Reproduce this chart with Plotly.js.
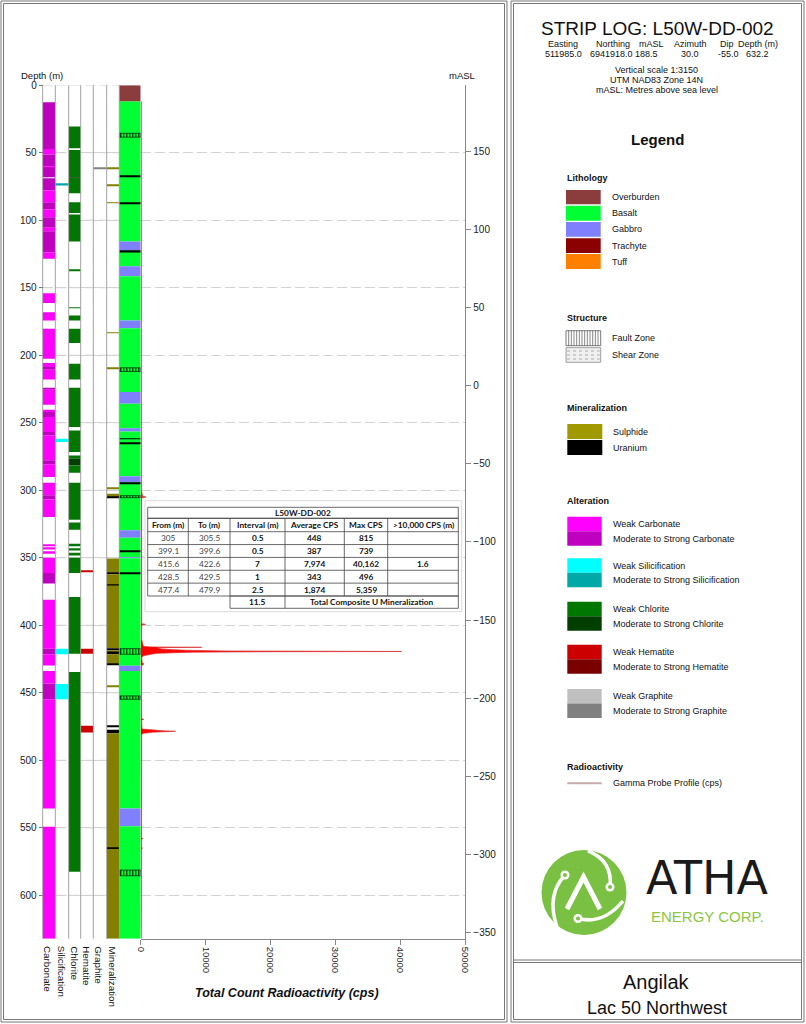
<!DOCTYPE html>
<html><head><meta charset="utf-8">
<script src="https://cdn.plot.ly/plotly-3.0.1.min.js"></script>
<style>html,body{margin:0;padding:0;background:#fff;}#chart{width:806px;height:1024px;}</style>
</head><body><div id="chart"></div>
<script>
// ================= DATA =================
const holeId = 'L50W-DD-002';
const holeDepth = 632.2;
const collarLabels = ['Easting','Northing','mASL','Azimuth','Dip','Depth (m)'];
const collarValues = ['511985.0','6941918.0','188.5','30.0','-55.0','632.2'];
const depthTicks = [0,50,100,150,200,250,300,350,400,450,500,550,600];
const maslTicks = [-350,-300,-250,-200,-150,-100,-50,0,50,100,150];
const cpsTicks = [0,10000,20000,30000,40000,50000];
const maslRange = [-354.0, 192.4];

// intervals: [from (m), to (m), code]
const carbonate = [
 [12.6,47.2,'S'],[47.2,51.4,'W'],[51.4,60.2,'S'],[60.2,60.8,'W'],[60.8,68.2,'S'],[68.9,78.0,'S'],[78.0,86.7,'W'],
 [86.7,92.1,'S'],[92.1,97.8,'W'],[97.8,105.6,'S'],[105.6,108.1,'W'],[108.1,123.7,'S'],[123.7,128.6,'W'],
 [154.0,161.4,'W'],[168.1,174.2,'W'],[180.3,202.6,'W'],[205.8,208.8,'W'],[208.8,210.8,'S'],[210.8,218.0,'W'],
 [224.0,225.5,'S'],[225.5,236.6,'W'],[240.3,242.0,'W'],[242.0,245.8,'S'],[245.8,256.9,'W'],[256.9,259.3,'S'],
 [259.3,277.8,'W'],[277.8,280.8,'S'],[280.8,290.2,'W'],[294.4,303.7,'W'],[303.7,306.9,'S'],[306.9,319.8,'W'],
 [340.3,341.3,'W'],[342.8,343.8,'W'],[345.8,347.0,'W'],[349.9,361.3,'W'],[361.3,369.1,'S'],[381.0,417.3,'W'],
 [417.3,421.5,'S'],[421.5,429.7,'W'],[433.8,443.1,'W'],[443.1,454.8,'S'],[454.8,535.7,'W'],[549.3,632.2,'W']
];
const silicification = [[73.3,74.3,'S'],[261.8,264.3,'W'],[417.3,421.5,'W'],[443.4,454.8,'W']];
const chlorite = [
 [30.6,46.7,'W'],[48.0,68.2,'W'],[68.2,68.7,'S'],[68.7,80.0,'W'],[86.7,94.6,'W'],[95.8,115.8,'W'],
 [137.0,137.5,'W'],[164.6,165.1,'W'],[170.5,174.2,'W'],[180.4,191.0,'W'],[206.3,218.0,'W'],[224.0,253.2,'W'],
 [255.7,271.7,'W'],[274.2,276.6,'W'],[276.6,281.6,'S'],[281.6,287.0,'W'],[294.4,321.9,'W'],[323.9,329.3,'W'],
 [339.7,341.4,'W'],[342.9,344.6,'W'],[346.3,348.3,'W'],[350.0,361.3,'W'],[379.1,421.0,'W'],[434.6,582.6,'W']
];
const hematite = [[359.6,360.1,'W'],[417.3,421.0,'W'],[474.5,479.4,'W']];
const graphite = [[60.8,61.8,'S']];
const mineralization = [
 [60.9,62.1,'SU'],[74.0,74.5,'SU'],[86.9,87.3,'SU'],[183.0,183.5,'SU'],[209.2,209.7,'SU'],[298.4,298.9,'SU'],
 [302.5,305.0,'SU'],[305.0,305.5,'U'],[350.6,361.0,'SU'],[361.0,361.6,'U'],[362.2,370.1,'SU'],[370.1,370.6,'U'],
 [370.6,417.0,'SU'],[417.0,418.5,'U'],[418.5,419.5,'SU'],[419.5,421.5,'U'],[421.5,428.5,'SU'],[428.5,429.3,'U'],
 [445.0,445.6,'SU'],[474.3,474.8,'U'],[477.4,479.9,'U'],[479.9,565.0,'SU'],[565.0,565.6,'U'],[565.6,632.2,'SU']
];
const lithology = [
 [0,12,'OB'],[12,115.8,'BA'],[115.8,122.5,'GA'],[122.5,134,'BA'],[134,141.5,'GA'],[141.5,174.2,'BA'],
 [174.2,180,'GA'],[180,227.3,'BA'],[227.3,236,'GA'],[236,254,'BA'],[254,256.4,'GA'],[256.4,289.7,'BA'],
 [289.7,293.9,'GA'],[293.9,329.7,'BA'],[329.7,335.1,'GA'],[335.1,349.6,'BA'],[349.6,350.3,'GA'],[350.3,430,'BA'],
 [430,433.8,'GA'],[433.8,535.7,'BA'],[535.7,548.8,'GA'],[548.8,632.2,'BA']
];
const contacts = [[67.1,67.7],[86.8,87.4],[122.8,123.9],[261.5,262.1],[264.7,265.3],[294.2,294.9],[344.7,345.3],[361.4,362.0]];
const faultZones = [[35.6,38.5],[209.3,212.0],[304.0,305.5],[417.3,421.5],[452.3,454.8],[581.3,585.5]];

// gamma probe profile (depth m, cps)
const gammaDepth = [12,60,120,180,240,300,304.6,305.0,305.3,305.8,340,380,398.8,399.3,399.8,410,415.6,416.0,416.3,416.6,
 417.0,417.5,418.0,418.5,419.0,419.4,419.6,419.9,420.3,420.8,421.3,421.9,422.6,424,428.0,428.6,429.2,430,450,469.3,469.7,470.1,
 476.8,477.4,477.8,478.2,478.5,478.8,479.2,479.6,480.0,481,520,557.5,558,558.5,564.5,565,565.5,600,632];
const gammaCps = [90,100,110,100,120,110,300,815,500,130,110,120,150,739,150,130,400,1400,9400,2500,
 2800,3200,4500,7000,13000,40162,20000,8000,4000,2500,1800,1000,400,150,250,496,250,130,120,150,480,150,
 200,1500,2000,3500,5359,2600,1800,1200,400,150,120,130,350,130,120,300,120,100,90];

// summary table
const tblHeaders = ['From (m)','To (m)','Interval (m)','Average CPS','Max CPS','>10,000 CPS (m)'];
const tblFrom = ['305','399.1','415.6','428.5','477.4'];
const tblTo = ['305.5','399.6','422.6','429.5','479.9'];
const tblInterval = ['0.5','0.5','7','1','2.5'];
const tblAvg = ['448','387','7,974','343','1,874'];
const tblMax = ['815','739','40,162','496','5,359'];
const tblOver = ['','','1.6','',''];
const tblTotal = '11.5';
const tblTotalLabel = 'Total Composite U Mineralization';

// legend entries
const lithLegend = [['OB','Overburden'],['BA','Basalt'],['GA','Gabbro'],['TR','Trachyte'],['TU','Tuff']];
const altLegend = [['carb','Carbonate'],['sil','Silicification'],['chl','Chlorite'],['hem','Hematite'],['gr','Graphite']];

// ================= STYLE =================
const C = {
 carb:{W:'#FF00FF',S:'#C000C0'}, sil:{W:'#00FFFF',S:'#00A8A8'}, chl:{W:'#007700',S:'#003F00'},
 hem:{W:'#CC0000',S:'#7A0000'}, gr:{W:'#C0C0C0',S:'#808080'},
 min:{SU:'#857F00',U:'#000000'},
 lith:{OB:'#8B3D3D',BA:'#00FF33',GA:'#7F80FF',TR:'#8B0000',TU:'#FF7F00'}
};
const F = 'Liberation Sans, Arial, sans-serif';
const TF = 'Lato, Liberation Sans, sans-serif';
const W = 806, H = 1024;
const X = p => p / W, Y = p => 1 - p / H;
const plotTop = 85.2, plotBot = 938.8;
const ydom = [Y(plotBot), Y(plotTop)];
const GRID = '#d2d2d2', GDASH = '10px,4px';

const columns = [
 {ax:'x2', data:carbonate, col:C.carb, dom:[42.7,55.3]},
 {ax:'x3', data:silicification, col:C.sil, dom:[55.3,68.7]},
 {ax:'x4', data:chlorite, col:C.chl, dom:[68.7,80.7]},
 {ax:'x5', data:hematite, col:C.hem, dom:[80.7,93.3]},
 {ax:'x6', data:graphite, col:C.gr, dom:[93.3,106.7]},
 {ax:'x7', data:mineralization, col:C.min, dom:[106.7,119.3]},
 {ax:'x8', data:lithology, col:C.lith, dom:[119.3,140.7]}
];

function barTrace(iv, ax, colors, extra) {
 return Object.assign({
  type:'bar', orientation:'v', xaxis:ax, yaxis:'y',
  x: iv.map(() => 0.5), base: iv.map(d => d[0]), y: iv.map(d => d[1] - d[0]), width: 1,
  marker:{color: colors, line:{width:0}}, hoverinfo:'skip', showlegend:false
 }, extra || {});
}

const traces = [];
columns.forEach(c => traces.push(barTrace(c.data, c.ax, c.data.map(d => c.col[d[2]]))));
traces.push(barTrace(contacts, 'x8', '#000000'));
traces.push(barTrace(faultZones, 'x8', C.lith.BA, {
 marker:{color:C.lith.BA, pattern:{shape:'|', fgcolor:'#000000', size:3, solidity:0.35}, line:{color:'#000000', width:0.6}}
}));
traces.push({type:'scatter', mode:'lines', x:gammaCps, y:gammaDepth, xaxis:'x', yaxis:'y',
 fill:'tozerox', fillcolor:'#FF0000', line:{color:'#D83030', width:0.7}, hoverinfo:'skip', showlegend:false});
// empty trace so the mASL axis (y2) subplot exists
traces.push({type:'scatter', mode:'markers', x:[], y:[], xaxis:'x', yaxis:'y2', hoverinfo:'skip', showlegend:false});

// ================= LAYOUT =================
const shapes = [], ann = [];
function rect(x0,y0,x1,y1,fill,lc,lw){ shapes.push({type:'rect',xref:'paper',yref:'paper',x0:X(x0),x1:X(x1),y0:Y(y1),y1:Y(y0),fillcolor:fill||'rgba(0,0,0,0)',line:{color:lc||'rgba(0,0,0,0)',width:lw||0},layer:'above'}); }
function seg(x0,y0,x1,y1,color,width,dash){ shapes.push({type:'line',xref:'paper',yref:'paper',x0:X(x0),y0:Y(y0),x1:X(x1),y1:Y(y1),line:{color:color,width:width,dash:dash||'solid'},layer:'above'}); }
function txt(t,x,y,size,o){ o=o||{}; ann.push({text:t,x:X(x),y:Y(y),xref:'paper',yref:'paper',showarrow:false,borderpad:0,
 font:{family:o.family||F,size:size,color:o.color||'#111'},xanchor:o.xa||'center',yanchor:o.ya||'middle',textangle:o.angle||0}); }

// depth grid continued behind the log columns (on the depth axis scale)
depthTicks.forEach(d => shapes.push({type:'line', xref:'paper', yref:'y', x0:X(42.7), x1:X(140.7), y0:d, y1:d,
 line:{color:GRID, width:1, dash:GDASH}, layer:'below'}));

// panel borders
rect(1,1,507,1022,null,'#777',1); rect(3.5,3.5,504.5,1019.5,null,'#777',1);
rect(511,1,804,1022,null,'#777',1); rect(513.5,3.5,801.5,1019.5,null,'#777',1);
seg(513.5,960,801.5,960,'#777',1); seg(513.5,962.5,801.5,962.5,'#777',1);

// column separators
[42.7,55.3,68.7,80.7,93.3,106.7,119.3].forEach(x => seg(x,plotTop,x,plotBot,'#8a8a8a',0.8));

// column labels
const colNames = ['Carbonate','Silicification','Chlorite','Hematite','Graphite','Mineralization'];
const colCenters = [48,61.7,74.7,86.7,98.8,112.5];
colNames.forEach((n,i) => txt(n,colCenters[i],945,9.8,{angle:90,ya:'top'}));
txt('Depth (m)',42,75,9.5); txt('mASL',462,75,9.5);
txt('<b><i>Total Count Radioactivity (cps)</i></b>',286.7,993.3,12.5);

// summary table
const tx=[147.7,188.3,230,285,344.3,387.7,458.3];
const tTitle0=507.3, tHead0=518.3, tRow0=531.7, rowH=12.86, tTot0=tRow0+5*rowH, tTot1=tTot0+12.3;
const TL='#444', TS=8.3;
rect(145,500.7,461.7,611.7,'#ffffff','#cfcfcf',0.8);
rect(tx[0],tTitle0,tx[6],tHead0,null,TL,0.8);
for(let k=0;k<=6;k++){ const yy = k===0?tHead0:tRow0+(k-1)*rowH; seg(tx[0],yy,tx[6],yy,TL,0.8); }
tx.forEach(x => seg(x,tHead0,x,tTot0,TL,0.8));
rect(tx[2],tTot0,tx[6],tTot1,null,TL,0.8); seg(tx[3],tTot0,tx[3],tTot1,TL,0.8);
const cc = tx.slice(0,6).map((x,i)=>(x+tx[i+1])/2);
txt('<b>'+holeId+'</b>',(tx[0]+tx[6])/2,(tTitle0+tHead0)/2,TS,{family:TF});
tblHeaders.forEach((h,i)=>txt('<b>'+h+'</b>',cc[i],(tHead0+tRow0)/2,TS,{family:TF}));
const tCols=[tblFrom,tblTo,tblInterval,tblAvg,tblMax,tblOver];
tCols.forEach((arr,i)=>arr.forEach((v,k)=>{ if(v!=='') txt(i<2?v:'<b>'+v+'</b>',cc[i],tRow0+(k+0.5)*rowH,TS,{family:TF,color:i<2?'#444':'#111'}); }));
txt('<b>'+tblTotal+'</b>',cc[2],(tTot0+tTot1)/2,TS,{family:TF});
txt('<b>'+tblTotalLabel+'</b>',(tx[3]+tx[6])/2,(tTot0+tTot1)/2,TS,{family:TF});

// right panel header
txt('STRIP LOG: '+holeId,657,28.3,19);
const chx=[562.7,612.7,651.7,690,726.7,758.3], cvx=[563.3,611,646.7,690,728.3,757.3];
collarLabels.forEach((l,i)=>txt(l,chx[i],44.3,9));
collarValues.forEach((v,i)=>txt(v,cvx[i],53.8,9));
txt('Vertical scale 1:3150',656.7,70,9); txt('UTM NAD83 Zone 14N',656.7,80,9); txt('mASL: Metres above sea level',656.7,89.5,9);
txt('<b>Legend</b>',657,139,15);

// legend: lithology
txt('<b>Lithology</b>',566,177.7,9,{xa:'left'});
const lithY=[[190,204.3],[205.7,220.7],[222,236.7],[238.3,253],[254,269]];
lithLegend.forEach((e,i)=>{ rect(566,lithY[i][0],600.7,lithY[i][1],C.lith[e[0]]); txt(e[1],611,(lithY[i][0]+lithY[i][1])/2,9,{xa:'left'}); });
// structure
txt('<b>Structure</b>',566,317.7,9,{xa:'left'});
rect(566,330.7,600.7,345.7,'#ffffff','#555',0.8);
for(let k=1;k<13;k++){ const xx=566+k*34.7/13; seg(xx,330.7,xx,345.7,'#555',0.7); }
txt('Fault Zone',611,338.2,9,{xa:'left'});
rect(566,347.7,600.7,362.3,'#f0f0f0','#888',0.8);
[351,355,359].forEach(yy=>seg(567,yy,599.7,yy,'#999',0.8,'dot'));
txt('Shear Zone',611,355,9,{xa:'left'});
// mineralization
txt('<b>Mineralization</b>',566,408.3,9,{xa:'left'});
rect(567.3,424,602.3,439,'#A09A00'); txt('Sulphide',612.3,431.5,9,{xa:'left'});
rect(567.3,440,602.3,455,'#000000'); txt('Uranium',612.3,447.5,9,{xa:'left'});
// alteration
txt('<b>Alteration</b>',566,500.7,9,{xa:'left'});
const altY=[516.7,558.3,601.7,644.7,689];
altLegend.forEach((e,i)=>{ const y0=altY[i];
 rect(567.3,y0,601.7,y0+14.5,C[e[0]].W); rect(567.3,y0+14.5,601.7,y0+29,C[e[0]].S);
 txt('Weak '+e[1],611.7,y0+7.4,9,{xa:'left'}); txt('Moderate to Strong '+e[1],611.7,y0+22,9,{xa:'left'}); });
// radioactivity
txt('<b>Radioactivity</b>',566,766.7,9,{xa:'left'});
seg(567.3,783.3,601.7,783.3,'#C9AAAA',2); txt('Gamma Probe Profile (cps)',611.7,783.3,9,{xa:'left'});

// logo
shapes.push({type:'circle',xref:'paper',yref:'paper',x0:X(541.5),x1:X(626.5),y0:Y(935),y1:Y(850),fillcolor:'#7AC143',line:{width:0},layer:'above'});
const swirl=[[[565,875],[546,895],[557,927]],[[610,887],[613,861],[588,850.8]],[[578,918.5],[603,925],[623,901]]];
swirl.forEach(s=>shapes.push({type:'path',xref:'paper',yref:'paper',layer:'above',
 path:'M '+X(s[0][0])+','+Y(s[0][1])+' Q '+X(s[1][0])+','+Y(s[1][1])+' '+X(s[2][0])+','+Y(s[2][1]),line:{color:'#ffffff',width:3.5}}));
shapes.push({type:'path',xref:'paper',yref:'paper',layer:'above',
 path:'M '+X(567)+','+Y(909)+' L '+X(583.5)+','+Y(877)+' L '+X(600)+','+Y(909),line:{color:'#ffffff',width:5}});
[[565,875],[610,887],[578,918.5]].forEach(p=>{
 shapes.push({type:'circle',xref:'paper',yref:'paper',layer:'above',x0:X(p[0]-4.5),x1:X(p[0]+4.5),y0:Y(p[1]+4.5),y1:Y(p[1]-4.5),fillcolor:'#ffffff',line:{width:0}});
 shapes.push({type:'circle',xref:'paper',yref:'paper',layer:'above',x0:X(p[0]-2),x1:X(p[0]+2),y0:Y(p[1]+2),y1:Y(p[1]-2),fillcolor:'#7AC143',line:{width:0}});
});
txt('ATHA',707.3,906,46,{color:'#1a1a1a',ya:'bottom',family:'DejaVu Sans, Liberation Sans, sans-serif'});
txt('ENERGY CORP.',707.5,906.5,15,{color:'#8CC63F',ya:'top'});
txt('Angilak',656.7,981.7,20); txt('Lac 50 Northwest',656.7,1008.3,18);

const hiddenAxis = {showticklabels:false, ticks:'', showline:false, showgrid:false, zeroline:false, fixedrange:true};
const layout = {
 width:W, height:H, margin:{l:0,r:0,t:0,b:0}, paper_bgcolor:'#ffffff', plot_bgcolor:'rgba(0,0,0,0)',
 showlegend:false, barmode:'overlay', font:{family:F,size:10,color:'#222'},
 xaxis:{domain:[X(140.7),X(465.3)], range:[0,50000], anchor:'y', tickvals:cpsTicks, ticktext:cpsTicks.map(String), tickangle:90,
  ticks:'outside', ticklen:5, tickcolor:'#888', showline:true, linecolor:'#888', linewidth:1,
  showgrid:false, zeroline:false, tickfont:{size:9.5,color:'#222'}},
 yaxis:{domain:ydom, range:[holeDepth,0], anchor:'free', position:X(42.7), tickvals:depthTicks,
  ticks:'outside', ticklen:4, tickcolor:'#777', showline:false, zeroline:false,
  showgrid:true, gridcolor:GRID, gridwidth:1, griddash:GDASH, tickfont:{size:10,color:'#222'}},
 yaxis2:{overlaying:'y', side:'right', anchor:'x', range:maslRange, tickvals:maslTicks,
  ticks:'outside', ticklen:5, tickcolor:'#888', showline:true, linecolor:'#888', linewidth:1,
  showgrid:false, zeroline:false, tickfont:{size:10,color:'#222'}},
 shapes:shapes, annotations:ann
};
columns.forEach((c,i)=>{ layout['xaxis'+(i+2)] = Object.assign({domain:[X(c.dom[0]),X(c.dom[1])], range:[0,1], anchor:'y'}, hiddenAxis); });

Plotly.newPlot('chart', traces, layout, {displayModeBar:false});
</script></body></html>
